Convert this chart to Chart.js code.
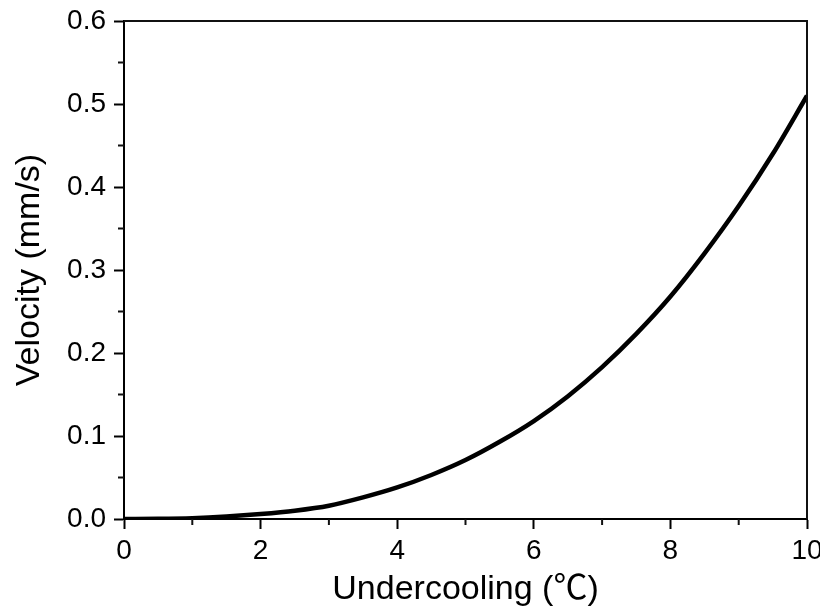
<!DOCTYPE html>
<html>
<head>
<meta charset="utf-8">
<script src="https://cdn.jsdelivr.net/npm/chart.js@4.4.1/dist/chart.umd.min.js"></script>
<style>
  html, body { margin: 0; padding: 0; background: #fff; }
  #wrap { width: 820px; height: 610px; }
</style>
</head>
<body>
<div id="wrap"><canvas id="grafico" width="820" height="610"></canvas></div>
<script>
// valores
const undercooling = [0, 0.5, 1, 1.5, 2, 2.5, 3, 3.5, 4, 4.5, 5, 5.5, 6, 6.5, 7, 7.5, 8, 8.5, 9, 9.5, 10];
const velocity = [0, 0.0002, 0.001, 0.003, 0.006, 0.010, 0.016, 0.026, 0.038, 0.053, 0.071, 0.093, 0.118, 0.148, 0.183, 0.223, 0.268, 0.320, 0.377, 0.440, 0.510];
const xMinor = [1, 3, 5, 7, 9];
const yMinor = [0.05, 0.15, 0.25, 0.35, 0.45, 0.55];

const fonte = "'Liberation Sans', Arial, 'Noto Sans CJK SC', sans-serif";

const pontos = undercooling.map((x, i) => ({ x: x, y: velocity[i] }));

// moldura superior/direita e ticks menores
const moldura = {
    id: "moldura",
    afterDraw(chart) {
        const ctx = chart.ctx;
        const a = chart.chartArea;
        const sx = chart.scales.x;
        const sy = chart.scales.y;
        ctx.save();
        ctx.strokeStyle = "#111";
        ctx.lineWidth = 2;
        ctx.beginPath();
        ctx.moveTo(a.left, a.top);
        ctx.lineTo(a.right, a.top);
        ctx.lineTo(a.right, a.bottom);
        ctx.stroke();

        ctx.lineWidth = 2;
        ctx.beginPath();
        xMinor.forEach(v => {
            const px = sx.getPixelForValue(v);
            ctx.moveTo(px, a.bottom);
            ctx.lineTo(px, a.bottom + 6);
        });
        yMinor.forEach(v => {
            const py = sy.getPixelForValue(v);
            ctx.moveTo(a.left, py);
            ctx.lineTo(a.left - 6, py);
        });
        ctx.stroke();
        ctx.restore();
    }
};

new Chart(document.getElementById("grafico"), {
    type: "line",
    data: {
        datasets: [{
            data: pontos,
            borderColor: "#000",
            borderWidth: 4.5,
            pointRadius: 0,
            cubicInterpolationMode: "monotone",
            fill: false
        }]
    },
    options: {
        animation: false,
        responsive: false,
        layout: { padding: { left: 0, top: 21, right: 13, bottom: 0 } },
        plugins: { legend: { display: false }, tooltip: { enabled: false } },
        scales: {
            x: {
                type: "linear",
                min: 0,
                max: 10,
                afterFit(s) { s.height = 91; s.paddingLeft = 0; s.paddingRight = 0; },
                ticks: {
                    stepSize: 2,
                    autoSkip: false,
                    maxRotation: 0,
                    color: "#000",
                    padding: 5,
                    font: { family: fonte, size: 28 },
                    callback: v => String(v)
                },
                grid: { display: true, drawOnChartArea: false, drawTicks: true, tickLength: 10, tickWidth: 2, tickColor: "#000" },
                border: { display: true, color: "#000", width: 2 },
                title: {
                    display: true,
                    text: "Undercooling (℃)",
                    color: "#000",
                    font: { family: fonte, size: 34, lineHeight: 1.2 },
                    padding: { top: 0, bottom: 0 }
                }
            },
            y: {
                min: 0,
                max: 0.6,
                afterFit(s) { s.width = 124; s.paddingTop = 0; s.paddingBottom = 0; },
                ticks: {
                    stepSize: 0.1,
                    color: "#000",
                    padding: 8,
                    font: { family: fonte, size: 28 },
                    callback: v => v.toFixed(1)
                },
                grid: { display: true, drawOnChartArea: false, drawTicks: true, tickLength: 10, tickWidth: 2, tickColor: "#000" },
                border: { display: true, color: "#000", width: 2 },
                title: {
                    display: true,
                    text: "Velocity (mm/s)",
                    color: "#000",
                    font: { family: fonte, size: 34, lineHeight: 1.2 },
                    padding: { top: 9, bottom: 0 }
                }
            }
        }
    },
    plugins: [moldura]
});
</script>
</body>
</html>
